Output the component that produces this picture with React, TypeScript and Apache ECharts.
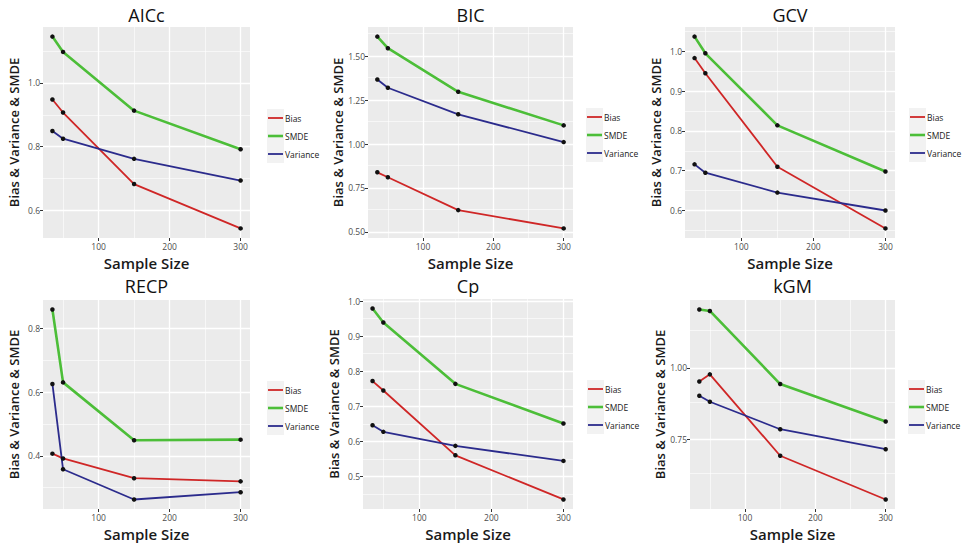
import React, { useEffect, useRef } from "react";
import * as echarts from "echarts";

// ---- data ----
const sampleSizes = [35, 50, 150, 300];
const seriesNames = ["Bias", "SMDE", "Variance"];
const xTicks = [100, 200, 300];
const xMinorTicks = [50, 150, 250];

const aiccBias = [0.948, 0.907, 0.683, 0.544];
const aiccSmde = [1.145, 1.097, 0.913, 0.792];
const aiccVariance = [0.849, 0.825, 0.762, 0.694];
const aiccTicks = [0.6, 0.8, 1.0];
const aiccLabels = ["0.6", "0.8", "1.0"];

const bicBias = [0.839, 0.811, 0.624, 0.52];
const bicSmde = [1.611, 1.545, 1.297, 1.106];
const bicVariance = [1.367, 1.32, 1.169, 1.011];
const bicTicks = [0.5, 0.75, 1.0, 1.25, 1.5];
const bicLabels = ["0.50", "0.75", "1.00", "1.25", "1.50"];

const gcvBias = [0.983, 0.945, 0.71, 0.555];
const gcvSmde = [1.037, 0.995, 0.814, 0.698];
const gcvVariance = [0.716, 0.695, 0.645, 0.6];
const gcvTicks = [0.6, 0.7, 0.8, 0.9, 1.0];
const gcvLabels = ["0.6", "0.7", "0.8", "0.9", "1.0"];

const recpBias = [0.407, 0.392, 0.33, 0.32];
const recpSmde = [0.86, 0.631, 0.449, 0.451];
const recpVariance = [0.626, 0.358, 0.263, 0.286];
const recpTicks = [0.4, 0.6, 0.8];
const recpLabels = ["0.4", "0.6", "0.8"];

const cpBias = [0.772, 0.745, 0.56, 0.434];
const cpSmde = [0.979, 0.939, 0.764, 0.651];
const cpVariance = [0.646, 0.627, 0.587, 0.544];
const cpTicks = [0.5, 0.6, 0.7, 0.8, 0.9, 1.0];
const cpLabels = ["0.5", "0.6", "0.7", "0.8", "0.9", "1.0"];

const kgmBias = [0.952, 0.977, 0.692, 0.539];
const kgmSmde = [1.204, 1.199, 0.943, 0.812];
const kgmVariance = [0.902, 0.881, 0.785, 0.715];
const kgmTicks = [0.75, 1.0];
const kgmLabels = ["0.75", "1.00"];

const panelData = [
  { title: "AICc", values: [aiccBias, aiccSmde, aiccVariance], ticks: aiccTicks, labels: aiccLabels },
  { title: "BIC", values: [bicBias, bicSmde, bicVariance], ticks: bicTicks, labels: bicLabels },
  { title: "GCV", values: [gcvBias, gcvSmde, gcvVariance], ticks: gcvTicks, labels: gcvLabels },
  { title: "RECP", values: [recpBias, recpSmde, recpVariance], ticks: recpTicks, labels: recpLabels },
  { title: "Cp", values: [cpBias, cpSmde, cpVariance], ticks: cpTicks, labels: cpLabels },
  { title: "kGM", values: [kgmBias, kgmSmde, kgmVariance], ticks: kgmTicks, labels: kgmLabels },
];

// ---- layout / style ----
const layout = [
  { l: 43, t: 27, w: 207, h: 211, titleY: 6, keyX: 268, keyY: 118 },
  { l: 368, t: 27, w: 205, h: 211, titleY: 6, keyX: 587, keyY: 117 },
  { l: 685, t: 27, w: 210, h: 211, titleY: 6, keyX: 910, keyY: 117 },
  { l: 43, t: 300, w: 207, h: 209, titleY: 277, keyX: 268, keyY: 390 },
  { l: 363, t: 299, w: 210, h: 210, titleY: 277, keyX: 588, keyY: 389 },
  { l: 690, t: 300, w: 205, h: 209, titleY: 277, keyX: 909, keyY: 389 },
];
const colors = ["#cf2626", "#4cbe38", "#2b2b8c"];
const widths = [1.8, 2.6, 1.8];
const FONT = '"Open Sans", "Noto Sans", sans-serif';

function buildOption() {
  const grid: any[] = [];
  const xAxis: any[] = [];
  const yAxis: any[] = [];
  const title: any[] = [];
  const series: any[] = [];
  const graphic: any[] = [];

  const xExp = (sampleSizes[sampleSizes.length - 1] - sampleSizes[0]) * 0.05;
  const xMin = sampleSizes[0] - xExp;
  const xMax = sampleSizes[sampleSizes.length - 1] + xExp;

  panelData.forEach((p, i) => {
    const L = layout[i];
    const all = p.values.flat();
    const lo = Math.min(...all);
    const hi = Math.max(...all);
    const yMin = lo - (hi - lo) * 0.05;
    const yMax = hi + (hi - lo) * 0.05;
    const step = p.ticks[1] - p.ticks[0];
    const minors: number[] = [];
    for (let v = p.ticks[0] - step / 2; v <= yMax; v += step) {
      if (v >= yMin) minors.push(+v.toFixed(6));
    }

    grid.push({
      left: L.l, top: L.t, width: L.w, height: L.h,
      show: true, backgroundColor: "#ebebeb", borderWidth: 0,
    });
    title.push({
      text: p.title, left: L.l + L.w / 2, top: L.titleY, textAlign: "center", padding: 0,
      textStyle: { fontFamily: FONT, fontSize: 18, fontWeight: "normal", color: "#111" },
    });
    xAxis.push({
      type: "value", gridIndex: i, min: xMin, max: xMax,
      name: "Sample Size", nameLocation: "middle", nameGap: 17,
      nameTextStyle: { fontFamily: FONT, fontSize: 15, fontWeight: 600, color: "#1a1a1a" },
      axisLine: { show: false },
      axisTick: { show: true, length: 3, lineStyle: { color: "#333" }, customValues: xTicks },
      axisLabel: { fontFamily: FONT, fontSize: 8.5, color: "#4d4d4d", margin: 4, customValues: xTicks },
      splitLine: { show: false },
    });
    yAxis.push({
      type: "value", gridIndex: i, min: yMin, max: yMax,
      name: "Bias & Variance & SMDE", nameLocation: "middle", nameGap: 23,
      nameTextStyle: { fontFamily: FONT, fontSize: 13, fontWeight: 600, color: "#1a1a1a" },
      axisLine: { show: false },
      axisTick: { show: true, length: 3, lineStyle: { color: "#333" }, customValues: p.ticks },
      axisLabel: {
        fontFamily: FONT, fontSize: 8.5, color: "#4d4d4d", margin: 3, customValues: p.ticks,
        formatter: (v: number) => {
          const k = p.ticks.findIndex((t) => Math.abs(t - v) < 1e-6);
          return k >= 0 ? p.labels[k] : "";
        },
      },
      splitLine: { show: false },
    });

    const gridLines: any[] = [];
    xTicks.forEach((v) => gridLines.push({ xAxis: v, lineStyle: { color: "#fff", width: 1.3, type: "solid" } }));
    xMinorTicks.forEach((v) => gridLines.push({ xAxis: v, lineStyle: { color: "#fff", width: 0.6, type: "solid" } }));
    p.ticks.forEach((v) => gridLines.push({ yAxis: v, lineStyle: { color: "#fff", width: 1.3, type: "solid" } }));
    minors.forEach((v) => gridLines.push({ yAxis: v, lineStyle: { color: "#fff", width: 0.6, type: "solid" } }));

    seriesNames.forEach((name, s) => {
      const ser: any = {
        type: "line", name, xAxisIndex: i, yAxisIndex: i,
        data: sampleSizes.map((x, k) => [x, p.values[s][k]]),
        symbol: "circle", symbolSize: 4.5, showSymbol: true,
        itemStyle: { color: "#111" },
        lineStyle: { color: colors[s], width: widths[s] },
        z: 3, silent: true,
      };
      if (s === 0) {
        ser.markLine = {
          silent: true, z: 1, symbol: ["none", "none"], label: { show: false },
          animation: false, data: gridLines,
        };
      }
      series.push(ser);
    });

    // legend (ggplot style keys)
    graphic.push({
      type: "rect", shape: { x: L.keyX - 1, y: L.keyY - 9, width: 17, height: 54 },
      style: { fill: "#f2f2f2" }, silent: true,
    });
    seriesNames.forEach((name, s) => {
      const y = L.keyY + s * 18;
      graphic.push({
        type: "line", shape: { x1: L.keyX, y1: y, x2: L.keyX + 15, y2: y },
        style: { stroke: colors[s], lineWidth: widths[s] }, silent: true,
      });
      graphic.push({
        type: "text", x: L.keyX + 17, y,
        style: { text: name, fill: "#1a1a1a", font: `8.5px ${FONT}`, verticalAlign: "middle", align: "left" },
        silent: true,
      });
    });
  });

  return {
    animation: false,
    backgroundColor: "#ffffff",
    title, grid, xAxis, yAxis, series, graphic,
  };
}

export default function App() {
  const ref = useRef<HTMLDivElement>(null);
  useEffect(() => {
    if (!ref.current) return;
    const chart = echarts.init(ref.current, undefined, { renderer: "svg" });
    chart.setOption(buildOption() as any);
    return () => chart.dispose();
  }, []);
  return (
    <div
      ref={ref}
      style={{ position: "absolute", left: 0, top: 0, width: 962, height: 547, background: "#fff" }}
    />
  );
}
